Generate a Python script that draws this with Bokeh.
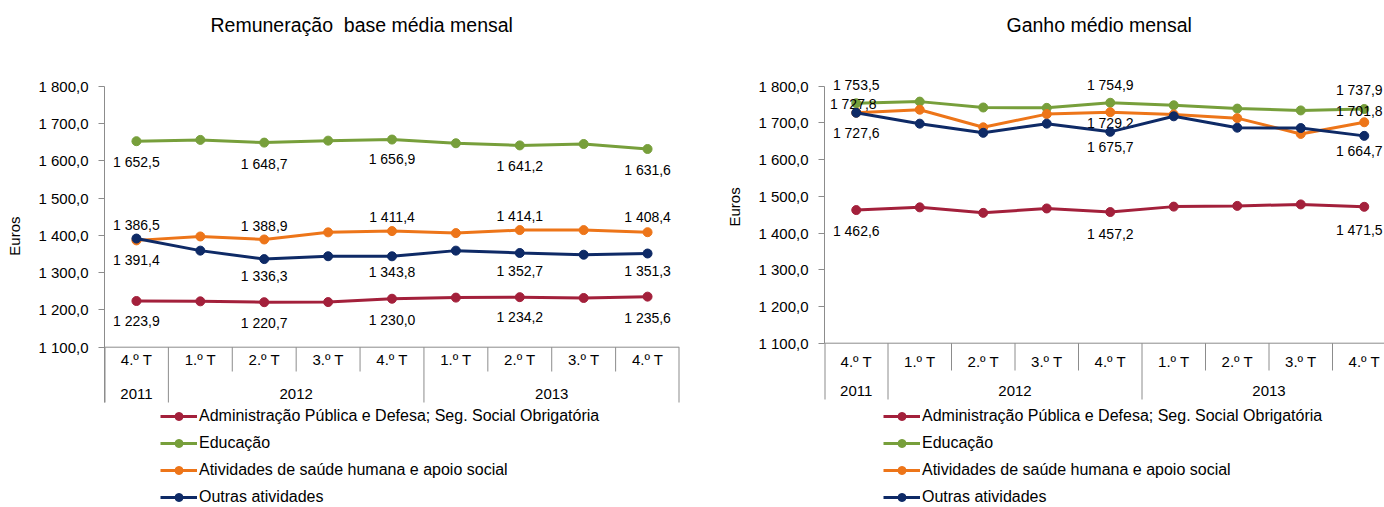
from bokeh.plotting import figure
from bokeh.layouts import row
from bokeh.models import (FixedTicker, CustomJSTickFormatter, Range1d, Legend,
                          LegendItem, ColumnDataSource)
from bokeh.core.properties import value
from bokeh.embed import file_html
from bokeh.resources import INLINE

# ---------------- data ----------------
quarters = ["4.º T", "1.º T", "2.º T", "3.º T", "4.º T", "1.º T", "2.º T", "3.º T", "4.º T"]
years = ["2011", "2012", "2013"]
year_first = [0, 1, 5]
year_last = [0, 4, 8]
y_ticks = [1100, 1200, 1300, 1400, 1500, 1600, 1700, 1800]

series_names = [
    "Administração Pública e Defesa; Seg. Social Obrigatória",
    "Educação",
    "Atividades de saúde humana e apoio social",
    "Outras atividades",
]

base_admin = [1223.9, 1223.0, 1220.7, 1221.0, 1230.0, 1233.0, 1234.2, 1232.0, 1235.6]
base_educ = [1652.5, 1656.0, 1648.7, 1654.0, 1656.9, 1647.0, 1641.2, 1645.0, 1631.6]
base_saude = [1386.5, 1397.0, 1388.9, 1408.0, 1411.4, 1406.0, 1414.1, 1414.0, 1408.4]
base_outras = [1391.4, 1359.0, 1336.3, 1344.0, 1343.8, 1359.0, 1352.7, 1348.0, 1351.3]

ganho_admin = [1462.6, 1470.0, 1455.0, 1467.0, 1457.2, 1472.0, 1474.0, 1478.0, 1471.5]
ganho_educ = [1753.5, 1758.0, 1742.0, 1741.0, 1754.9, 1748.0, 1739.0, 1734.0, 1737.9]
ganho_saude = [1727.8, 1736.0, 1688.0, 1724.0, 1729.2, 1723.0, 1713.0, 1670.0, 1701.8]
ganho_outras = [1727.6, 1698.0, 1673.0, 1698.0, 1675.7, 1718.0, 1687.0, 1686.0, 1664.7]

left_label_idx = [0, 2, 4, 6, 8]
right_label_idx = [0, 4, 8]

left_title = "Remuneração\u00a0 base média mensal"
right_title = "Ganho médio mensal"
y_title = "Euros"

# ---------------- style ----------------
COLORS = ["#A3203B", "#779F3B", "#ED7519", "#0E2A66"]
GRAY = "#8C8C8C"
FONT = "Liberation Sans"
H = 507
FRAME_TOP = 35      # page px
FRAME_BOTTOM = 507  # page px (frame reaches the bottom; legend sits inside it)

# label offsets (screen px), per series, per labelled point
left_yoff = [[20, 21, 21, 20, 21], [21, 21, 19, 21, 21],
             [-15, -13, -14, -14, -15], [21, 17, 16, 18, 17]]
left_xoff = [[0] * 5] * 4
right_yoff = [[21, 22, 23], [-18, -18, -19], [-9, 11, -11], [20, 15, 15]]
right_xoff = [[0, 0, -5], [0, 0, -5], [-3, 0, -5], [0, 0, -5]]

geo_left = dict(fig_left=0, width=704, frame_l=104, frame_r=679, cat_w=(679 - 104) / 9,
                y1800=85.7, y1100=346.7, quarter_y=359, year_y=393, short_bottom=371,
                long_bottom=402, title_left=210, legend_left=160, legend_top=406,
                axis_full=True, ylabel_pad=17)
geo_right = dict(fig_left=704, width=680, frame_l=824, frame_r=1384, cat_w=63.5,
                 y1800=85.7, y1100=342.7, quarter_y=361, year_y=390, short_bottom=370,
                 long_bottom=399, title_left=1006, legend_left=883, legend_top=406,
                 axis_full=False, ylabel_pad=31)


def fmt(v):
    return f"{v:,.1f}".replace(",", " ").replace(".", ",")


def build_chart(title, series, label_idx, yoffs, xoffs, geo):
    k = 700.0 / (geo["y1100"] - geo["y1800"])

    def py(page_y):
        return 1800 - (page_y - geo["y1800"]) * k

    x0 = -0.5
    x1 = -0.5 + (geo["frame_r"] - geo["frame_l"]) / geo["cat_w"]
    y0 = py(FRAME_BOTTOM)
    y1 = py(FRAME_TOP)
    ylong = py(geo["long_bottom"])

    p = figure(width=geo["width"], height=H,
               x_range=Range1d(x0, x1), y_range=Range1d(y0, y1),
               x_axis_location=None, toolbar_location=None, output_backend="svg",
               min_border_left=geo["frame_l"] - geo["fig_left"],
               min_border_right=geo["fig_left"] + geo["width"] - geo["frame_r"],
               min_border_top=FRAME_TOP,
               min_border_bottom=H - FRAME_BOTTOM)
    p.outline_line_color = None
    p.grid.visible = False
    p.background_fill_color = "white"
    p.border_fill_color = "white"

    p.title.text = title
    p.title.align = "left"
    p.title.offset = geo["title_left"] - geo["frame_l"]
    p.title.standoff = 0
    p.title.vertical_align = "bottom"
    p.title.text_font = FONT
    p.title.text_font_size = "19.5px"
    p.title.text_font_style = "normal"
    p.title.text_color = "#000000"

    ax = p.yaxis[0]
    ax.ticker = FixedTicker(ticks=y_ticks)
    ax.formatter = CustomJSTickFormatter(code=r"""
        const s = tick.toFixed(1).split('.');
        return s[0].replace(/\B(?=(\d{3})+(?!\d))/g, ' ') + ',' + s[1];
    """)
    ax.bounds = (ylong if geo["axis_full"] else 1100, 1800)
    ax.axis_line_color = GRAY
    ax.major_tick_line_color = GRAY
    ax.major_tick_in = 0
    ax.major_tick_out = 6
    ax.minor_tick_line_color = None
    ax.major_label_text_font = FONT
    ax.major_label_text_font_size = "15px"
    ax.major_label_text_color = "#000000"
    ax.major_label_standoff = 10
    # non-breaking padding lifts the centred label to where the reference has it
    ax.axis_label = "\u00a0" * geo["ylabel_pad"] + y_title
    ax.axis_label_text_font = FONT
    ax.axis_label_text_font_size = "15px"
    ax.axis_label_text_font_style = "normal"
    ax.axis_label_text_color = "#000000"
    ax.axis_label_standoff = 12

    # category axis (drawn by hand: two rows with separators)
    p.segment(x0=[x0], y0=[1100], x1=[x1], y1=[1100], line_color=GRAY, line_width=1)
    long_b = [f - 0.5 for f in year_first] + [year_last[-1] + 0.5]
    bx, by1 = [], []
    for b in [i + 0.5 for i in range(-1, len(quarters))]:
        if b > x1:
            continue
        bx.append(b)
        by1.append(ylong if b in long_b else py(geo["short_bottom"]))
    widths = [2 if (b <= x0 or b >= x1 - 1e-9) else 1 for b in bx]
    p.segment(x0=bx, y0=[1100] * len(bx), x1=bx, y1=by1, line_color=GRAY,
              line_width=widths)
    p.text(x=list(range(len(quarters))), y=[py(geo["quarter_y"])] * len(quarters),
           text=quarters, text_font=value(FONT), text_font_size="15px",
           text_align="center", text_baseline="middle", text_color="#000000")
    p.text(x=[(f + l) / 2 for f, l in zip(year_first, year_last)],
           y=[py(geo["year_y"])] * len(years), text=years, text_font=value(FONT),
           text_font_size="15px", text_align="center", text_baseline="middle",
           text_color="#000000")

    xs = list(range(len(quarters)))
    items = []
    for name, vals, col, yo, xo in zip(series_names, series, COLORS, yoffs, xoffs):
        lr = p.line(xs, vals, line_color=col, line_width=3)
        sr = p.scatter(xs, vals, size=9, fill_color=col, line_color=col)
        items.append(LegendItem(label=name, renderers=[lr, sr]))
        src = ColumnDataSource(dict(x=label_idx, y=[vals[i] for i in label_idx],
                                    t=[fmt(vals[i]) for i in label_idx],
                                    yo=yo, xo=xo))
        p.text(x="x", y="y", text="t", y_offset="yo", x_offset="xo", source=src,
               text_font=value(FONT), text_font_size="14px", text_align="center",
               text_baseline="middle", text_color="#000000")

    row_h, spacing = 20, 7
    leg_h = 4 * row_h + 3 * spacing
    legend = Legend(items=items,
                    location=(geo["legend_left"] - geo["frame_l"],
                              FRAME_BOTTOM - (geo["legend_top"] + leg_h)))
    legend.orientation = "vertical"
    legend.glyph_width = 37
    legend.glyph_height = row_h
    legend.label_height = row_h
    legend.spacing = spacing
    legend.padding = 0
    legend.margin = 0
    legend.label_standoff = 2
    legend.border_line_color = None
    legend.background_fill_alpha = 0
    legend.label_text_font = FONT
    legend.label_text_font_size = "16px"
    legend.label_text_color = "#000000"
    p.add_layout(legend)
    return p


p1 = build_chart(left_title, [base_admin, base_educ, base_saude, base_outras],
                 left_label_idx, left_yoff, left_xoff, geo_left)
p2 = build_chart(right_title, [ganho_admin, ganho_educ, ganho_saude, ganho_outras],
                 right_label_idx, right_yoff, right_xoff, geo_right)

layout = row(p1, p2)
open("out.html", "w").write(file_html(layout, INLINE))
